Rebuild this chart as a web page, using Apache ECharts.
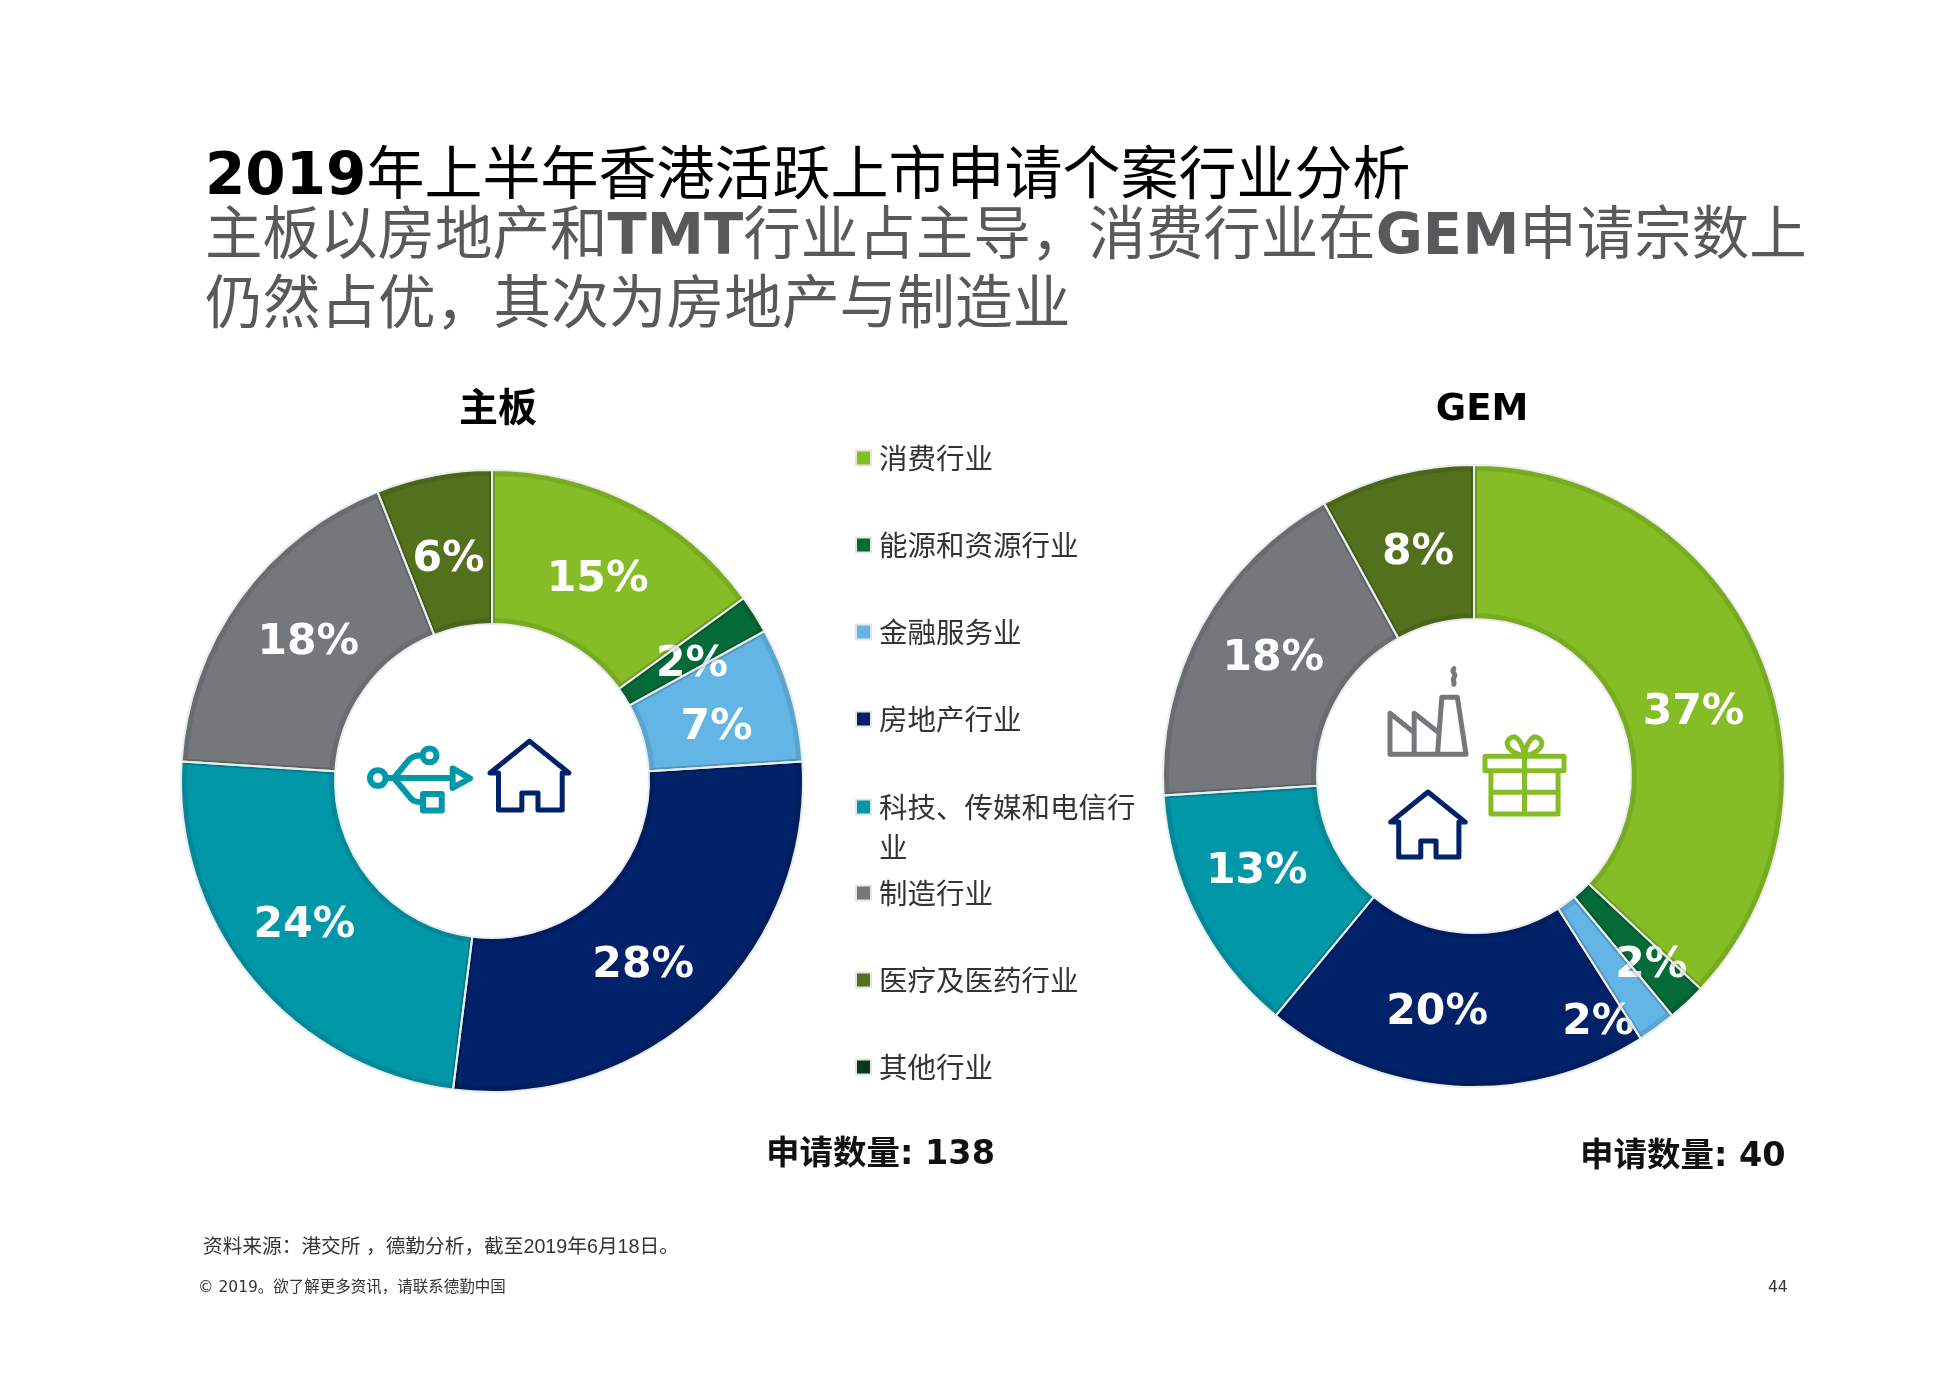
<!DOCTYPE html>
<html lang="zh">
<head>
<meta charset="utf-8">
<title>2019年上半年香港活跃上市申请个案行业分析</title>
<style>html,body{margin:0;padding:0;background:#fff}#chart{width:1952px;height:1390px}</style>
<script src="https://cdn.jsdelivr.net/npm/echarts@6/dist/echarts.min.js"></script>
</head>
<body>
<div id="chart"></div>
<script>
// Industry names, in the order used by both rings and the legend
const categories = ['消费行业', '能源和资源行业', '金融服务业', '房地产行业', '科技、传媒和电信行业', '制造行业', '医疗及医药行业', '其他行业'];
// Share of applications per industry, in percent
const mainBoardShare = [15, 2, 7, 28, 24, 18, 6, 0];
const gemShare = [37, 2, 2, 20, 13, 18, 8, 0];
const fillColors = ['#86BC25', '#046A38', '#62B5E5', '#012169', '#0097A9', '#75787B', '#53711D', '#043A1E'];

const fontLatin = "'DejaVu Sans','Noto Sans CJK SC',sans-serif";
const fontCjk = "'Noto Sans CJK SC',sans-serif";

// Hand placement of the value labels, per slice, relative to the ring's mid radius
const mainNudge = [[-2, 10], [0, 11], [-3, 13], [-11, 12], [-5, -6], [8, 1], [1, 12], [0, 0]];
const gemNudge = [[2, 31], [15, 17], [-15, 55], [-22, 0], [-6, -12], [7, -3], [3, 7], [0, 0]];

// A ring is three stacked pies over the same data: the coloured slices with their labels,
// a translucent stroke that darkens the edge of each slice, and thin pale separators on top
function ring(center, share, nudge) {
  const common = {
    type: 'pie', center, startAngle: 90, clockwise: true, silent: true,
    emphasis: {disabled: true}, labelLine: {show: false}
  };
  const slices = categories.map((name, i) => ({name, value: share[i]})).filter(d => d.value > 0);
  const faces = Object.assign({}, common, {
    radius: [157, 311], avoidLabelOverlap: false,
    label: {position: 'inside', color: '#fff', fontFamily: fontLatin, fontWeight: 'bold', fontSize: 42.5, formatter: p => p.value + '%'},
    labelLayout: p => ({dx: nudge[p.dataIndex][0], dy: nudge[p.dataIndex][1]}),
    data: categories.map((name, i) => ({
      name, value: share[i], itemStyle: {color: fillColors[i]}, label: {show: share[i] > 0}
    }))
  });
  const rims = Object.assign({}, common, {
    radius: [160, 308], label: {show: false}, z: 3,
    itemStyle: {color: 'rgba(0,0,0,0)', borderColor: 'rgba(0,0,0,0.09)', borderWidth: 6},
    data: slices
  });
  const separators = Object.assign({}, common, {
    radius: [157, 311], label: {show: false}, z: 4,
    itemStyle: {color: 'rgba(0,0,0,0)', borderColor: '#E9EDED', borderWidth: 2},
    data: slices
  });
  return [faces, rims, separators];
}

// Legend is split in three so that the wrapped entry keeps the regular row spacing
function legendBlock(top, names, formatter) {
  return {
    orient: 'vertical', left: 855, top, padding: 0, itemGap: 47, itemWidth: 15, itemHeight: 15,
    icon: 'rect', selectedMode: false, data: names, formatter,
    itemStyle: {borderColor: '#E4E6E6', borderWidth: 2, color: 'inherit'},
    textStyle: {fontFamily: fontCjk, fontSize: 28.5, color: '#333', lineHeight: 40, padding: [0, 0, 0, 3]}
  };
}

function line(left, top, text, fontSize, color) {
  return {
    left, top, padding: 0, text,
    textStyle: {
      fontFamily: fontLatin, fontWeight: 'normal', fontSize, color,
      rich: {b: {fontFamily: fontLatin, fontWeight: 'bold', fontSize, color}}
    }
  };
}

// Outline icons placed in the holes of the rings
const icons = [
  {d: 'M5 77 A18 18 0 1 0 41 77 A18 18 0 1 0 5 77 Z M41 77 H195 M195 55 L235 78 L195 100 Z M60 77 L95 35 Q105 25 125 25 M126 25 A16 16 0 1 0 158 25 A16 16 0 1 0 126 25 Z M60 77 L100 125 Q108 133 127 133 M127 114 H170 V152 H127 Z', x: 370, y: 746, w: 100, h: 67, color: '#0097A9', lw: 6},
  {d: 'M2 78 L95 3 L188 78 H172 V165 H115 V125 H77 V165 H22 V78 Z', x: 490, y: 740, w: 79, h: 71, color: '#012169', lw: 5},
  {d: 'M150 2 C142 10 158 14 150 22 C146 28 152 32 150 38 M2 200 V105 L58 150 V105 L112 148 M58 150 V200 M112 200 L122 68 H158 L178 200 Z M2 200 H178', x: 1390, y: 668, w: 76, h: 87, color: '#75787B', lw: 5},
  {d: 'M0 48 H186 V82 H0 Z M14 82 V184 H172 V82 M93 48 V184 M14 133 H172 M93 48 C60 40 40 20 60 5 C75 -5 90 20 93 48 M93 48 C126 40 146 20 126 5 C111 -5 96 20 93 48', x: 1485, y: 737, w: 79, h: 77, color: '#86BC25', lw: 5},
  {d: 'M2 78 L95 3 L188 78 H172 V165 H115 V125 H77 V165 H22 V78 Z', x: 1390, y: 792, w: 76, h: 65, color: '#012169', lw: 5}
];
const iconSeries = {
  type: 'custom', coordinateSystem: 'none', silent: true, z: 5,
  data: icons.map((_, i) => i),
  renderItem: params => {
    const a = icons[params.dataIndex];
    return {
      type: 'path',
      shape: {pathData: a.d, x: a.x, y: a.y, width: a.w, height: a.h},
      style: {fill: 'none', stroke: a.color, lineWidth: a.lw, lineJoin: 'round', lineCap: 'round'}
    };
  }
};

function plainText(x, y, text, fontSize, fill, fontFamily, extra) {
  return {type: 'text', silent: true, x, y, style: Object.assign({text, fontSize, fill, fontFamily, verticalAlign: 'middle'}, extra || {})};
}

const chart = echarts.init(document.getElementById('chart'), null, {renderer: 'canvas'});
chart.setOption({
  backgroundColor: '#fff',
  animation: false,
  tooltip: {show: false},
  title: [
    line(205, 150, '{b|2019}年上半年香港活跃上市申请个案行业分析', 58, '#000'),
    line(205, 210, '主板以房地产和{b|TMT}行业占主导，消费行业在{b|GEM}申请宗数上', 57.5, '#58595B'),
    line(205, 279, '仍然占优，其次为房地产与制造业', 57.7, '#58595B')
  ],
  legend: [
    legendBlock(438, categories.slice(0, 4)),
    legendBlock(747, categories.slice(4, 5), () => '\n科技、传媒和电信行\n业'),
    legendBlock(873, categories.slice(5))
  ],
  series: [...ring([492, 781], mainBoardShare, mainNudge), ...ring([1474, 776], gemShare, gemNudge), iconSeries],
  graphic: [
    plainText(498, 406, '主板', 39, '#000', fontCjk, {align: 'center', fontWeight: 'bold'}),
    plainText(1482, 410, 'GEM', 37, '#000', fontLatin, {align: 'center', fontWeight: 'bold'}),
    plainText(766, 1155, '申请数量: 138', 33.5, '#111', fontLatin, {fontWeight: 'bold'}),
    plainText(1580, 1157, '申请数量: 40', 33.5, '#111', fontLatin, {fontWeight: 'bold'}),
    plainText(203, 1248, '资料来源：港交所 ，德勤分析，截至2019年6月18日。', 19.7, '#333', "'Liberation Sans','Noto Sans CJK SC',sans-serif"),
    plainText(198, 1288, '© 2019。欲了解更多资讯，请联系德勤中国', 15.5, '#333', fontLatin),
    plainText(1768, 1288, '44', 15.5, '#333', fontLatin)
  ]
});
</script>
</body>
</html>
